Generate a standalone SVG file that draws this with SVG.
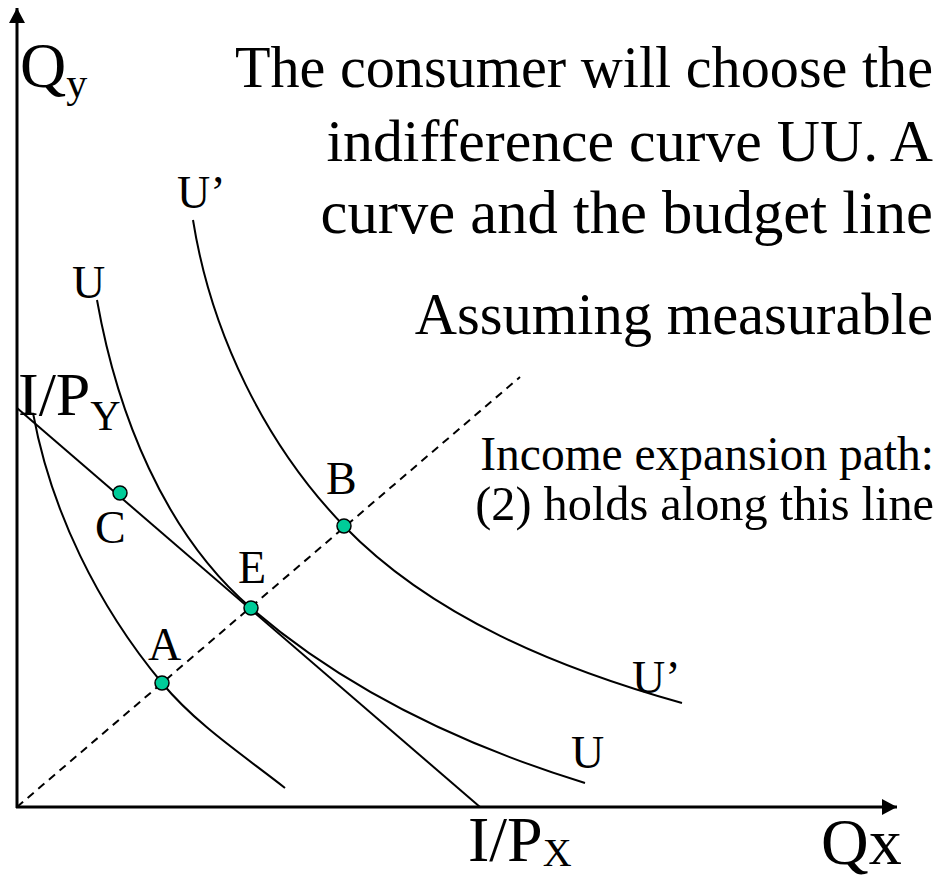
<svg xmlns="http://www.w3.org/2000/svg" width="940" height="877" viewBox="0 0 940 877" font-family="'Liberation Serif', 'Times New Roman', serif">
<style>
text,tspan{font-family:'Liberation Serif','Times New Roman',serif;fill:#000}
.main{text-anchor:end}
.small{text-anchor:end}
.lbl{font-size:46px}
.axis{stroke:#000;stroke-width:3;fill:none}
.curve{stroke:#000;stroke-width:2;fill:none}
.dash{stroke:#000;stroke-width:2;fill:none;stroke-dasharray:8 6}
.dot{fill:#00CC99;stroke:#000;stroke-width:1.5}
</style>
<defs>
<marker id="arr" markerWidth="5" markerHeight="5.34" refX="5" refY="2.67" orient="auto" markerUnits="strokeWidth">
<path d="M0,0 L5,2.67 L0,5.34 Z" fill="#000"/>
</marker>
</defs>
<rect width="940" height="877" fill="#fff"/>
<g id="axes">
<line class="axis" x1="17" y1="808" x2="17" y2="8" marker-end="url(#arr)"/>
<line class="axis" x1="16" y1="807" x2="897" y2="807" marker-end="url(#arr)"/>
</g>
<g id="connectors">
<line id="budget" class="curve" x1="17" y1="408" x2="480" y2="807"/>
<line id="expansion" class="dash" x1="17" y1="807" x2="520" y2="377"/>
<path id="curveA" class="curve" d="M33,413 C51,511 98,606 162,683 C197,725 243,755 285,788"/>
<path id="curveU" class="curve" d="M97,300 C117,413 164,533 251,608 C346,690 465,746 585,783"/>
<path id="curveU2" class="curve" d="M193,220 C211,333 265,444 344,526 C432,617 560,669 682,703"/>
</g>
<g id="pointC"><circle class="dot" cx="120" cy="493" r="7"/><text class="lbl" x="95" y="543">C</text></g>
<g id="pointE"><circle class="dot" cx="251" cy="608" r="7"/><text class="lbl" x="238" y="583">E</text></g>
<g id="pointA"><circle class="dot" cx="162" cy="683" r="7"/><text class="lbl" x="148" y="660">A</text></g>
<g id="pointB"><circle class="dot" cx="344" cy="526" r="7"/><text class="lbl" x="326" y="494">B</text></g>
<g id="labels">
<text x="20" y="87" font-size="64">Q<tspan dy="10" font-size="42">y</tspan></text>
<text x="18" y="415" font-size="62">I/P<tspan dy="15" font-size="42">Y</tspan></text>
<text x="468" y="861" font-size="64">I/P<tspan dy="5" font-size="40">X</tspan></text>
<text x="821" y="864" font-size="66">Qx</text>
<text class="lbl" x="177" y="208">U’</text>
<text class="lbl" x="72" y="298">U</text>
<text class="lbl" x="632" y="693">U’</text>
<text class="lbl" x="571" y="768">U</text>
</g>
<g id="caption">
<text class="main" x="933" y="87" font-size="58.2">The consumer will choose the</text>
<text class="main" x="933" y="161" font-size="59.8">indifference curve UU. A</text>
<text class="main" x="933" y="233" font-size="60.6">curve and the budget line</text>
<text class="main" x="933" y="334" font-size="58.5">Assuming measurable</text>
<text class="small" x="934" y="470" font-size="47.5">Income expansion path:</text>
<text class="small" x="934" y="520" font-size="48.3">(2) holds along this line</text>
</g>
</svg>
